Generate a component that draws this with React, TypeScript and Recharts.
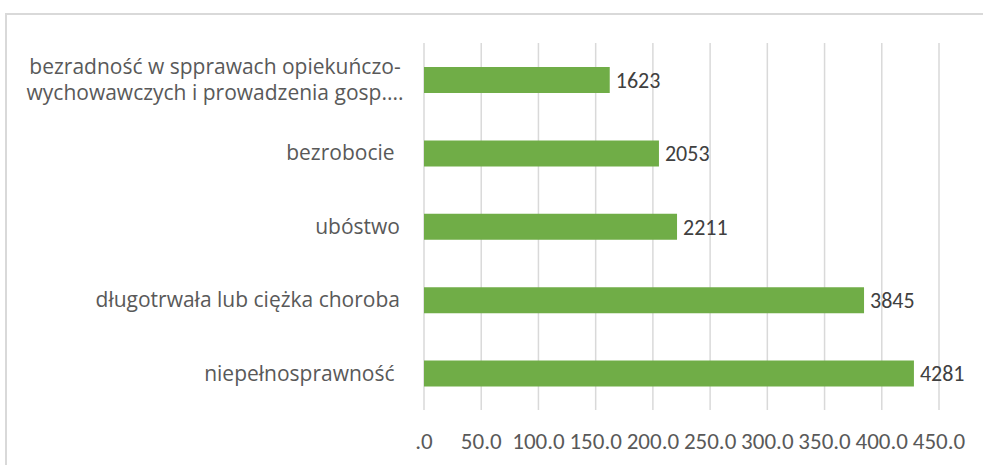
import React from 'react';
import { BarChart, Bar, XAxis, YAxis, CartesianGrid, LabelList } from 'recharts';

const categories = [
  'bezradność w spprawach opiekuńczo-\nwychowawczych i prowadzenia gosp....',
  'bezrobocie ',
  'ubóstwo',
  'długotrwała lub ciężka choroba',
  'niepełnosprawność ',
];
const values = [1623, 2053, 2211, 3845, 4281];
const xTicks = [0, 500, 1000, 1500, 2000, 2500, 3000, 3500, 4000, 4500];

const data = categories.map((c, i) => ({ name: c, value: values[i] }));

const CAT_FONT = '"Open Sans", sans-serif';
const NUM_FONT = 'Carlito, "Open Sans", sans-serif';

const YTick = (props: any) => {
  const { x, y, payload } = props;
  const lines = String(payload.value).split('\n');
  const lh = 26;
  if (lines.length === 1) {
    return (
      <text x={x} y={y} dy="0.35em" textAnchor="end" fill="#595959" fontSize={21} fontFamily={CAT_FONT} style={{ whiteSpace: 'pre' }}>
        {lines[0]}
      </text>
    );
  }
  const cx = x - 185;
  return (
    <text textAnchor="middle" fill="#595959" fontSize={21} fontFamily={CAT_FONT}>
      {lines.map((l, i) => (
        <tspan key={i} x={cx} y={y + (i - (lines.length - 1) / 2) * lh} dy="0.35em">
          {l}
        </tspan>
      ))}
    </text>
  );
};

const fmt = (v: number) => (v === 0 ? '.0' : (v / 10).toFixed(1));

export default function App() {
  return (
    <div style={{ position: 'absolute', left: 0, top: 0, width: 983, height: 465, overflow: 'hidden', background: '#fff' }}>
      <div style={{ position: 'absolute', left: 5, top: 13, width: 1000, height: 480, border: '2px solid #d9d9d9' }} />
      <div style={{ position: 'absolute', left: 0, top: 0 }}>
        <BarChart
          width={983}
          height={465}
          data={data}
          layout="vertical"
          margin={{ top: 43, right: 44, bottom: 0, left: 0 }}
          barSize={26}
        >
          <CartesianGrid horizontal={false} stroke="#d9d9d9" strokeWidth={1.5} />
          <XAxis
            type="number"
            domain={[0, 4500]}
            ticks={xTicks}
            tickFormatter={fmt}
            axisLine={false}
            tickLine={false}
            tickSize={0}
            tickMargin={23}
            height={55}
            interval={0}
            tick={{ fill: '#595959', fontSize: 23, fontFamily: NUM_FONT }}
          />
          <YAxis
            type="category"
            dataKey="name"
            width={424}
            axisLine={false}
            tickLine={false}
            tickSize={0}
            tickMargin={24}
            interval={0}
            tick={<YTick />}
          />
          <Bar dataKey="value" fill="#70ad47" isAnimationActive={false}>
            <LabelList dataKey="value" position="right" offset={6} fill="#404040" fontSize={22} fontFamily={NUM_FONT} />
          </Bar>
        </BarChart>
      </div>
    </div>
  );
}
